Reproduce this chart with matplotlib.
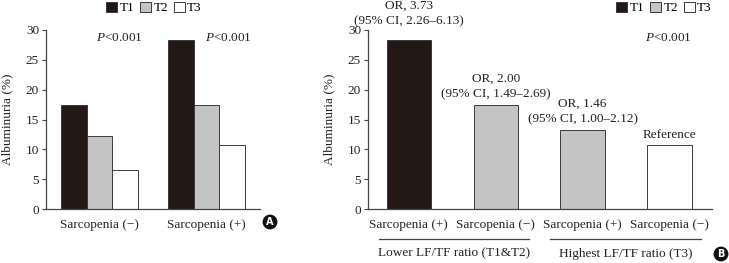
import matplotlib
matplotlib.use("Agg")
import matplotlib.pyplot as plt
from matplotlib.patches import Patch
from matplotlib.transforms import blended_transform_factory
import numpy as np

plt.rcParams['font.family'] = ['Liberation Serif', 'DejaVu Serif']
plt.rcParams['mathtext.fontset'] = 'custom'
plt.rcParams['mathtext.it'] = 'Liberation Serif:italic'
plt.rcParams['mathtext.rm'] = 'Liberation Serif'
plt.rcParams['font.size'] = 9

# ---- data ----
series = ["T1", "T2", "T3"]
groups_a = ["Sarcopenia (\u2212)", "Sarcopenia (+)"]
values_a = {"T1": [17.5, 28.4], "T2": [12.3, 17.5], "T3": [6.5, 10.8]}
pvals_a = ["<0.001", "<0.001"]

cats_b = ["Sarcopenia (+)", "Sarcopenia (\u2212)", "Sarcopenia (+)", "Sarcopenia (\u2212)"]
values_b = [28.4, 17.5, 13.2, 10.8]
series_b = ["T1", "T2", "T2", "T3"]
or_labels = ["OR, 3.73", "OR, 2.00", "OR, 1.46", ""]
ci_labels = ["(95% CI, 2.26\u20136.13)", "(95% CI, 1.49\u20132.69)", "(95% CI, 1.00\u20132.12)", "Reference"]
group_labels_b = ["Lower LF/TF ratio (T1&T2)", "Highest LF/TF ratio (T3)"]
yticks = [0, 5, 10, 15, 20, 25, 30]

colors = {"T1": "#231815", "T2": "#c4c4c4", "T3": "#ffffff"}
edge = "#3a3a3a"
axcol = "#444444"

fig = plt.figure(figsize=(7.29, 2.63), dpi=100)
W, H = 729, 263
def fx(px): return px / W
def fy(py): return 1 - py / H

def style(ax):
    for s in ["top", "right"]:
        ax.spines[s].set_visible(False)
    for s in ["left", "bottom"]:
        ax.spines[s].set_color(axcol)
        ax.spines[s].set_linewidth(0.9)
    ax.set_ylim(0, 30)
    ax.set_yticks(yticks)
    ax.tick_params(axis='y', direction='out', length=3, color=axcol, pad=2, labelsize=9.5, labelcolor="#222222")
    ax.tick_params(axis='x', length=0, pad=7, labelsize=9.5, labelcolor="#222222")
    ax.set_ylabel("Albuminuria (%)", fontsize=9.5, color="#222222", labelpad=9)

# ---- panel A ----
axA = fig.add_axes([fx(46), fy(209), fx(260) - fx(46), fy(30) - fy(209)])
centers = np.array([0.0, 4.2])
bw = 1.0
for i, s in enumerate(series):
    axA.bar(centers + (i - 1) * bw, values_a[s], width=bw, color=colors[s],
            edgecolor=edge, linewidth=0.7)
axA.set_xlim(-2.09, 6.29)
axA.set_xticks(centers)
axA.set_xticklabels(groups_a)
style(axA)
for c, p in zip([0.79, 5.05], pvals_a):
    axA.text(c, 28.6, r"$\it{P}$" + p, ha='center', va='center', fontsize=9.5, color="#222222")

# ---- panel B ----
axB = fig.add_axes([fx(368), fy(209), fx(712) - fx(368), fy(30) - fy(209)])
xb = np.arange(len(values_b))
axB.bar(xb, values_b, width=0.51, color=[colors[s] for s in series_b],
        edgecolor=edge, linewidth=0.7)
axB.set_xlim(-0.47, 3.49)
axB.set_xticks(xb)
axB.set_xticklabels(cats_b)
style(axB)
offs_or = [24.7, 18.7, 19.4, 0]
offs_ci = [13.0, 7.2, 7.9, 7.2]
for x, v, o, c, oo, oc in zip(xb, values_b, or_labels, ci_labels, offs_or, offs_ci):
    if o:
        axB.annotate(o, (x, v), xytext=(0, oo), textcoords='offset points',
                     ha='center', va='center', fontsize=9.5, color="#222222", annotation_clip=False)
    axB.annotate(c, (x, v), xytext=(0, oc), textcoords='offset points',
                 ha='center', va='center', fontsize=9.5, color="#222222", annotation_clip=False)
axB.text(2.99, 28.6, r"$\it{P}$" + pvals_a[0], ha='center', va='center', fontsize=9.5, color="#222222")

tr = blended_transform_factory(axB.transData, axB.transAxes)
for (a, b), lab in zip([(-0.345, 1.38), (1.63, 3.36)], group_labels_b):
    axB.plot([a, b], [-0.168, -0.168], transform=tr, color=axcol, lw=0.9, clip_on=False)
    axB.text((a + b) / 2, -0.25, lab, transform=tr, ha='center', va='center',
             fontsize=9.5, color="#222222")

# ---- legends ----
handles = [Patch(facecolor=colors[s], edgecolor=edge, linewidth=0.7, label=s) for s in series]
for cx in [154, 664]:
    fig.legend(handles=handles, loc='center', bbox_to_anchor=(fx(cx), fy(8)), ncol=3,
               frameon=False, handlelength=0.8, handleheight=0.8, handletextpad=0.2,
               columnspacing=0.45, fontsize=9.5, borderpad=0, borderaxespad=0)

# ---- panel letters ----
for (px, py, lab) in [(270, 222, "A"), (721, 254, "B")]:
    fig.text(fx(px), fy(py), lab, ha='center', va='center', fontsize=7, fontweight='bold',
             color='white', family='DejaVu Sans',
             bbox=dict(boxstyle='circle,pad=0.25', facecolor='#111111', edgecolor='none'))

fig.savefig("out.png", dpi=100)
